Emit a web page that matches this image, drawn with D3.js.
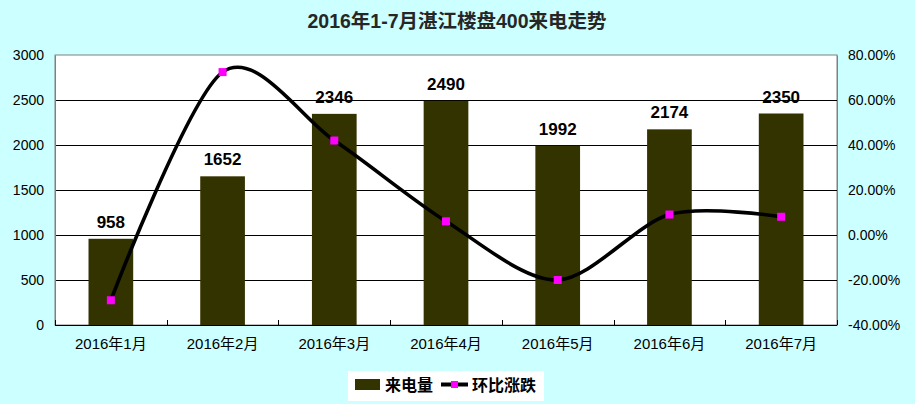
<!DOCTYPE html>
<html><head><meta charset="utf-8">
<script src="https://cdn.jsdelivr.net/npm/d3@7"></script>
<style>
html,body{margin:0;padding:0;background:#ccffff;}
svg{display:block;}
</style></head>
<body>
<svg id="chart" width="915" height="404"></svg>
<script>
const title = "2016年1-7月湛江楼盘400来电走势";
const categories = ["2016年1月","2016年2月","2016年3月","2016年4月","2016年5月","2016年6月","2016年7月"];
const calls = [958, 1652, 2346, 2490, 1992, 2174, 2350];
const changePct = [-29.0, 72.4, 42.0, 6.1, -20.0, 9.1, 8.1];
const leftTicks = [0, 500, 1000, 1500, 2000, 2500, 3000];
const rightTicks = [-40, -20, 0, 20, 40, 60, 80];
const seriesNames = ["来电量", "环比涨跌"];

const svg = d3.select("#chart");
const W = 915, H = 404;
const m = {l: 55, r: 78, t: 55, b: 79};
const pw = W - m.l - m.r, ph = H - m.t - m.b;
const numFont = "'Liberation Sans', Arial, sans-serif";
const cjkFont = "'Liberation Sans', 'Noto Sans CJK SC', sans-serif";

svg.append("rect").attr("width", W).attr("height", H).attr("fill", "#ccffff");

const x = d3.scaleBand().domain(categories).range([m.l, m.l + pw]).paddingInner(0).paddingOuter(0);
const yL = d3.scaleLinear().domain([0, 3000]).range([m.t + ph, m.t]);
const yR = d3.scaleLinear().domain([-40, 80]).range([m.t + ph, m.t]);

// plot area
svg.append("rect").attr("x", m.l).attr("y", m.t).attr("width", pw).attr("height", ph)
  .attr("fill", "#ffffff").attr("stroke", "#808080").attr("stroke-width", 1);

// gridlines
svg.append("g").selectAll("line").data(leftTicks.filter(d => d > 0 && d < 3000)).join("line")
  .attr("x1", m.l).attr("x2", m.l + pw)
  .attr("y1", d => Math.round(yL(d)) + 0.5).attr("y2", d => Math.round(yL(d)) + 0.5)
  .attr("stroke", "#000").attr("stroke-width", 1);

// bars
const bw = x.bandwidth() * 0.4;
svg.append("g").selectAll("rect").data(calls).join("rect")
  .attr("x", (d, i) => x(categories[i]) + x.bandwidth() / 2 - bw / 2)
  .attr("y", d => yL(d)).attr("width", bw).attr("height", d => yL(0) - yL(d))
  .attr("fill", "#333300");

// left axis
const gL = svg.append("g").attr("transform", `translate(${m.l},0)`)
  .call(d3.axisLeft(yL).tickValues(leftTicks).tickSize(0).tickPadding(11).tickFormat(d3.format("d")));
gL.select(".domain").attr("stroke", "#808080");
gL.selectAll("text").attr("font-family", numFont).attr("font-size", 14).attr("fill", "#000");

// right axis
const gR = svg.append("g").attr("transform", `translate(${m.l + pw},0)`)
  .call(d3.axisRight(yR).tickValues(rightTicks).tickSize(0).tickPadding(11).tickFormat(d => d.toFixed(2) + "%"));
gR.select(".domain").attr("stroke", "#808080");
gR.selectAll("text").attr("font-family", numFont).attr("font-size", 14).attr("fill", "#000");

// bottom axis
const gB = svg.append("g").attr("transform", `translate(0,${m.t + ph})`);
gB.append("line").attr("x1", m.l).attr("x2", m.l + pw).attr("y1", 0.5).attr("y2", 0.5).attr("stroke", "#000");
gB.selectAll("line.tk").data(d3.range(categories.length + 1)).join("line").attr("class", "tk")
  .attr("x1", i => Math.round(m.l + i * x.step()) + 0.5).attr("x2", i => Math.round(m.l + i * x.step()) + 0.5)
  .attr("y1", 0).attr("y2", -5).attr("stroke", "#000");
gB.selectAll("text").data(categories).join("text")
  .attr("x", d => x(d) + x.bandwidth() / 2).attr("y", 24)
  .attr("text-anchor", "middle").attr("font-family", cjkFont).attr("font-size", 15).attr("fill", "#000")
  .text(d => d);

// bar labels
svg.append("g").selectAll("text").data(calls).join("text")
  .attr("x", (d, i) => x(categories[i]) + x.bandwidth() / 2)
  .attr("y", d => yL(d) - 11)
  .attr("text-anchor", "middle").attr("font-family", numFont).attr("font-weight", "bold")
  .attr("font-size", 17).attr("fill", "#000").text(d => d);

// line
const pts = changePct.map((v, i) => [x(categories[i]) + x.bandwidth() / 2, yR(v)]);
svg.append("path").datum(pts)
  .attr("d", d3.line().curve(d3.curveCardinal.tension(0.1)))
  .attr("fill", "none").attr("stroke", "#000").attr("stroke-width", 3.6);
svg.append("g").selectAll("rect").data(pts).join("rect")
  .attr("x", d => d[0] - 4).attr("y", d => d[1] - 4).attr("width", 8).attr("height", 8)
  .attr("fill", "#ff00ff");

// title
svg.append("text").attr("x", 457).attr("y", 28).attr("text-anchor", "middle")
  .attr("font-family", cjkFont).attr("font-weight", "bold").attr("font-size", 19.5).attr("fill", "#262626")
  .text(title);

// legend
const lg = svg.append("g");
lg.append("rect").attr("x", 348).attr("y", 371).attr("width", 196).attr("height", 30).attr("fill", "#ffffff");
lg.append("rect").attr("x", 355).attr("y", 379).attr("width", 25).attr("height", 11).attr("fill", "#333300");
lg.append("text").attr("x", 385).attr("y", 391).attr("font-family", cjkFont).attr("font-weight", "bold")
  .attr("font-size", 16).attr("fill", "#000").text(seriesNames[0]);
lg.append("line").attr("x1", 441).attr("x2", 468).attr("y1", 384.5).attr("y2", 384.5).attr("stroke", "#000").attr("stroke-width", 4);
lg.append("rect").attr("x", 451).attr("y", 381).attr("width", 7).attr("height", 7).attr("fill", "#ff00ff");
lg.append("text").attr("x", 472).attr("y", 391).attr("font-family", cjkFont).attr("font-weight", "bold")
  .attr("font-size", 16).attr("fill", "#000").text(seriesNames[1]);
</script>
</body></html>
